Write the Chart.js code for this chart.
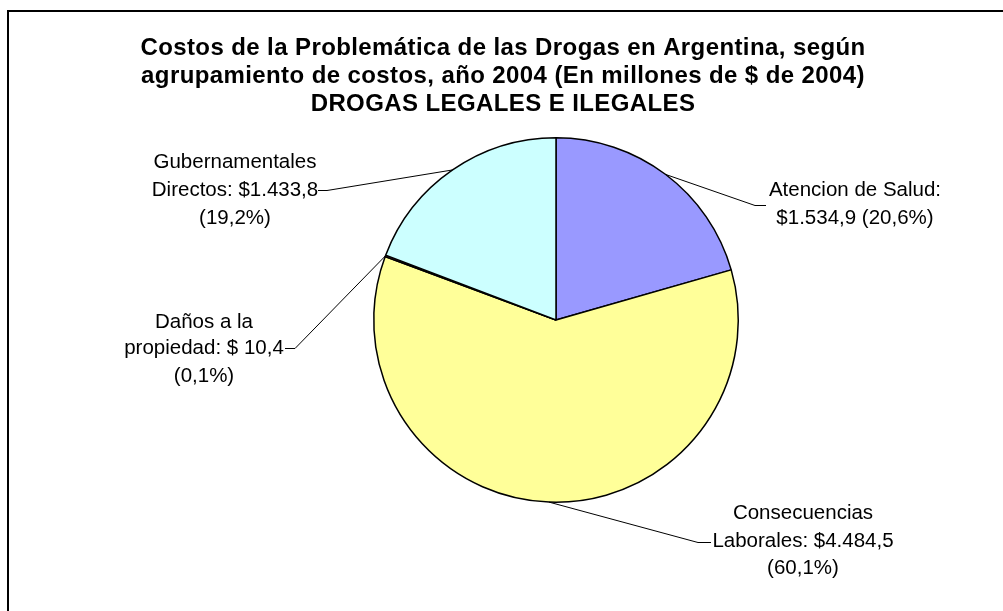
<!DOCTYPE html>
<html>
<head>
<meta charset="utf-8">
<script src="https://cdn.jsdelivr.net/npm/chart.js@4.4.1/dist/chart.umd.min.js"></script>
<style>
  html, body { margin: 0; padding: 0; background: #ffffff; }
  #wrap { width: 1003px; height: 611px; position: relative; }
</style>
</head>
<body>
<div id="wrap"><canvas id="c" width="1003" height="611"></canvas></div>
<script>
// ---- Data ----
const categories = ['Atencion de Salud', 'Consecuencias Laborales', 'Daños a la propiedad', 'Gubernamentales Directos'];
const values = [1534.9, 4484.5, 10.4, 1433.8];
const valueTexts = ['$1.534,9', '$4.484,5', '$ 10,4', '$1.433,8'];
const percentTexts = ['(20,6%)', '(60,1%)', '(0,1%)', '(19,2%)'];
const titleLines = [
  'Costos de la Problemática de las Drogas en Argentina, según',
  'agrupamiento de costos, año 2004 (En millones de $ de 2004)',
  'DROGAS LEGALES E ILEGALES'
];
// label text lines built from the data arrays
const labelLines = [
  [categories[0] + ':', valueTexts[0] + ' ' + percentTexts[0]],
  ['Consecuencias', 'Laborales: ' + valueTexts[1], percentTexts[1]],
  ['Daños a la', 'propiedad: ' + valueTexts[2], percentTexts[2]],
  ['Gubernamentales', 'Directos: ' + valueTexts[3], percentTexts[3]]
];
const sliceColors = ['#9999FF', '#FFFF99', '#993366', '#CCFFFF'];

// ---- Layout for labels (positions/styles only) ----
const labelLayout = [
  { cx: 855, ys: [190, 218], elbow: [755, 205], end: [766, 205] },
  { cx: 803, ys: [513, 541, 568], elbow: [698, 542], end: [711, 542] },
  { cx: 204, ys: [322, 348, 376], elbow: [295, 348], end: [285, 348] },
  { cx: 235, ys: [162, 190, 218], elbow: [327, 190], end: [318, 190] }
];
const FONT = '"Liberation Sans", Arial, Helvetica, sans-serif';

const framePlugin = {
  id: 'frame',
  beforeDraw(chart) {
    const ctx = chart.ctx;
    ctx.save();
    ctx.strokeStyle = '#000';
    ctx.lineWidth = 2;
    ctx.strokeRect(8, 11, 1100, 700);
    ctx.restore();
  }
};

const titlePlugin = {
  id: 'titleText',
  afterDraw(chart) {
    const ctx = chart.ctx;
    ctx.save();
    ctx.fillStyle = '#000';
    ctx.font = 'bold 24px ' + FONT;
    if ('letterSpacing' in ctx) ctx.letterSpacing = '0.4px';
    ctx.textAlign = 'center';
    ctx.textBaseline = 'middle';
    const ys = [48, 76, 104];
    titleLines.forEach((t, i) => ctx.fillText(t, 503, ys[i]));
    ctx.restore();
  }
};

const labelPlugin = {
  id: 'sliceLabels',
  afterDatasetsDraw(chart) {
    const ctx = chart.ctx;
    const arcs = chart.getDatasetMeta(0).data;
    ctx.save();
    arcs.forEach((arc, i) => {
      const p = arc.getProps(['x', 'y', 'startAngle', 'endAngle', 'outerRadius'], true);
      const mid = (p.startAngle + p.endAngle) / 2;
      const ex = p.x + Math.cos(mid) * p.outerRadius;
      const ey = p.y + Math.sin(mid) * p.outerRadius;
      const L = labelLayout[i];
      ctx.strokeStyle = '#000';
      ctx.lineWidth = 1;
      ctx.beginPath();
      ctx.moveTo(ex, ey);
      ctx.lineTo(L.elbow[0], L.elbow[1] + 0.5);
      ctx.lineTo(L.end[0], L.end[1] + 0.5);
      ctx.stroke();
      ctx.fillStyle = '#000';
      ctx.font = '20.5px ' + FONT;
      ctx.textAlign = 'center';
      ctx.textBaseline = 'middle';
      labelLines[i].forEach((t, j) => ctx.fillText(t, L.cx, L.ys[j]));
    });
    ctx.restore();
  }
};

new Chart(document.getElementById('c'), {
  type: 'pie',
  data: {
    labels: categories,
    datasets: [{
      data: values,
      backgroundColor: sliceColors,
      borderColor: '#000000',
      borderWidth: 1.5,
      borderAlign: 'center'
    }]
  },
  options: {
    responsive: false,
    animation: false,
    layout: { padding: { left: 373, right: 264, top: 137, bottom: 108 } },
    plugins: {
      legend: { display: false },
      tooltip: { enabled: false },
      title: { display: false }
    }
  },
  plugins: [framePlugin, titlePlugin, labelPlugin]
});
</script>
</body>
</html>
